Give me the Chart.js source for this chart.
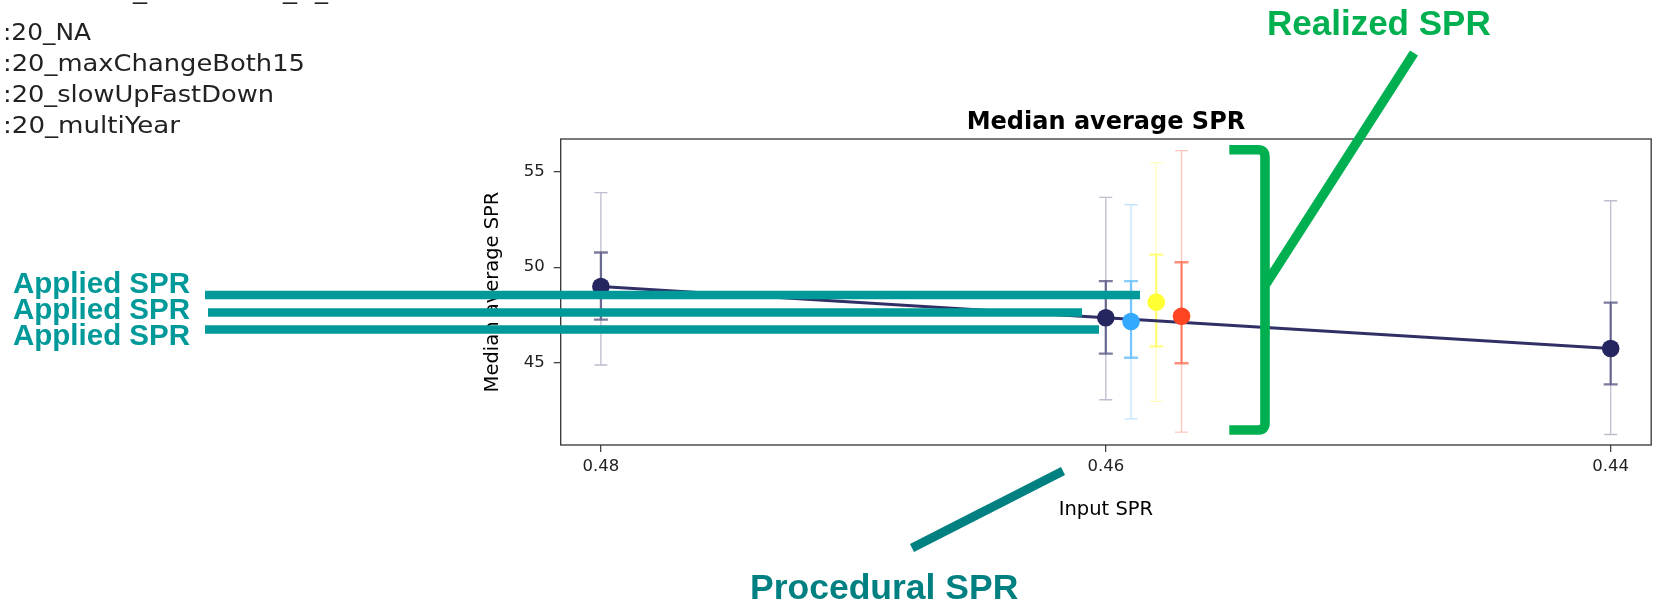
<!DOCTYPE html>
<html>
<head>
<meta charset="utf-8">
<script src="https://cdn.jsdelivr.net/npm/chart.js@4.4.1/dist/chart.umd.min.js"></script>
<style>
  body { margin: 0; background: #fff; }
  #wrap { position: relative; width: 1660px; height: 601px; overflow: hidden; }
  #chart { position: absolute; left: 0; top: 0; }
  #notes { position: absolute; left: 0; top: 0; pointer-events: none; }
</style>
</head>
<body>
<div id="wrap">
  <canvas id="chart" width="1660" height="601"></canvas>
  <svg id="notes" width="1660" height="601" xmlns="http://www.w3.org/2000/svg">
    <g font-family="DejaVu Sans" font-size="23" fill="#222">
      <text x="133" y="-1" textLength="14" lengthAdjust="spacingAndGlyphs">_</text>
      <text x="283" y="-1" textLength="14" lengthAdjust="spacingAndGlyphs">_</text>
      <text x="315" y="-1" textLength="13" lengthAdjust="spacingAndGlyphs">_</text>
      <text x="3" y="40" textLength="88" lengthAdjust="spacingAndGlyphs">:20_NA</text>
      <text x="3" y="71" textLength="302" lengthAdjust="spacingAndGlyphs">:20_maxChangeBoth15</text>
      <text x="3" y="102" textLength="271" lengthAdjust="spacingAndGlyphs">:20_slowUpFastDown</text>
      <text x="3" y="133" textLength="177" lengthAdjust="spacingAndGlyphs">:20_multiYear</text>
    </g>
    <g stroke="#009999" stroke-width="8.5">
      <line x1="205" y1="295" x2="1140" y2="295"/>
      <line x1="208" y1="312.5" x2="1082" y2="312.5"/>
      <line x1="205" y1="329.5" x2="1099" y2="329.5"/>
    </g>
    <g font-family="Liberation Sans, Arial, sans-serif" font-weight="bold" font-size="29.5" fill="#009999">
      <text x="13" y="293">Applied SPR</text>
      <text x="13" y="319">Applied SPR</text>
      <text x="13" y="345">Applied SPR</text>
    </g>
    <line x1="912" y1="548" x2="1063" y2="471" stroke="#008080" stroke-width="9"/>
    <text x="750" y="599" font-family="Liberation Sans, Arial, sans-serif" font-weight="bold" font-size="35.5" fill="#008080">Procedural SPR</text>
    <path d="M1229.3 149.7 H1258 Q1265 149.7 1265 157 V423 Q1265 430 1258 430 H1229.3" fill="none" stroke="#00b050" stroke-width="9.6"/>
    <line x1="1414" y1="53" x2="1266" y2="284" stroke="#00b050" stroke-width="9.5"/>
    <text x="1267" y="35" font-family="Liberation Sans, Arial, sans-serif" font-weight="bold" font-size="35" fill="#00b050">Realized SPR</text>
  </svg>
</div>
<script>
// tick labels
const xTicks = [0.48, 0.46, 0.44];
const yTicks = [45, 50, 55];

// :20_NA series, one point per input SPR
const inputSpr = [0.48, 0.46, 0.44];
const naMedian = [48.99, 47.35, 45.74];
const naInnerLow = [47.25, 45.47, 43.86];
const naInnerHigh = [50.77, 49.27, 48.15];
const naOuterLow = [44.88, 43.06, 41.24];
const naOuterHigh = [53.9, 53.66, 53.48];

// the other rules, only run at 0.46 (drawn slightly dodged)
const variantNames = [':20_maxChangeBoth15', ':20_slowUpFastDown', ':20_multiYear'];
const variantInput = [0.459, 0.458, 0.457];
const variantMedian = [47.16, 48.17, 47.43];
const variantInnerLow = [45.26, 45.85, 44.97];
const variantInnerHigh = [49.27, 50.66, 50.26];
const variantOuterLow = [42.06, 42.97, 41.37];
const variantOuterHigh = [53.27, 55.48, 56.1];

const naColor = [37, 37, 95];
const variantColors = [[51, 170, 255], [255, 255, 51], [255, 68, 34]];

const rgba = (c, a) => `rgba(${c[0]}, ${c[1]}, ${c[2]}, ${a})`;

Chart.defaults.font.family = 'DejaVu Sans';
Chart.defaults.color = '#222';

const datasets = [
  {
    label: ':20_NA',
    data: inputSpr.map((x, i) => ({ x: x, y: naMedian[i] })),
    inner: inputSpr.map((x, i) => [naInnerLow[i], naInnerHigh[i]]),
    outer: inputSpr.map((x, i) => [naOuterLow[i], naOuterHigh[i]]),
    rgb: naColor,
    showLine: true,
    borderColor: rgba(naColor, 0.95),
    borderWidth: 3,
    backgroundColor: rgba(naColor, 1),
    pointRadius: 8.8,
    pointBorderWidth: 0,
    order: 5
  },
  ...variantNames.map((name, i) => ({
    label: name,
    data: [{ x: variantInput[i], y: variantMedian[i] }],
    inner: [[variantInnerLow[i], variantInnerHigh[i]]],
    outer: [[variantOuterLow[i], variantOuterHigh[i]]],
    rgb: variantColors[i],
    backgroundColor: rgba(variantColors[i], 1),
    borderColor: rgba(variantColors[i], 1),
    pointRadius: 8.8,
    pointBorderWidth: 0,
    order: 1
  }))
];

function drawBar(ctx, px, lo, hi, color, width, cap) {
  ctx.strokeStyle = color;
  ctx.lineWidth = width;
  ctx.beginPath();
  ctx.moveTo(px, lo); ctx.lineTo(px, hi);
  ctx.moveTo(px - cap, lo); ctx.lineTo(px + cap, lo);
  ctx.moveTo(px - cap, hi); ctx.lineTo(px + cap, hi);
  ctx.stroke();
}

const errorBars = {
  id: 'errorBars',
  beforeDatasetsDraw(chart) {
    const { ctx, scales: { x, y } } = chart;
    ctx.save();
    chart.data.datasets.forEach(ds => {
      ds.data.forEach((pt, i) => {
        const px = x.getPixelForValue(pt.x);
        drawBar(ctx, px, y.getPixelForValue(ds.outer[i][0]), y.getPixelForValue(ds.outer[i][1]), rgba(ds.rgb, 0.3), 1.3, 6.5);
        drawBar(ctx, px, y.getPixelForValue(ds.inner[i][0]), y.getPixelForValue(ds.inner[i][1]), rgba(ds.rgb, 0.6), 2.3, 7);
      });
    });
    ctx.restore();
  }
};

const frame = {
  id: 'frame',
  afterDatasetsDraw(chart) {
    const { ctx, chartArea: a } = chart;
    ctx.save();
    ctx.strokeStyle = '#333';
    ctx.lineWidth = 1.3;
    ctx.strokeRect(a.left, a.top, a.right - a.left, a.bottom - a.top);
    ctx.restore();
  }
};

new Chart(document.getElementById('chart').getContext('2d'), {
  type: 'scatter',
  data: { datasets: datasets },
  plugins: [errorBars, frame],
  options: {
    responsive: false,
    animation: false,
    devicePixelRatio: 1,
    layout: { padding: { left: 481.6, right: 6.7, top: 0, bottom: 0 } },
    plugins: {
      legend: { display: false },
      tooltip: { enabled: false },
      title: {
        display: true,
        fullSize: false,
        text: 'Median average SPR',
        color: '#000',
        font: { size: 24, weight: 'bold' },
        padding: { top: 108.5, bottom: 1.7 }
      }
    },
    scales: {
      x: {
        type: 'linear',
        reverse: true,
        min: 0.438395,
        max: 0.481593,
        afterBuildTicks: axis => { axis.ticks = xTicks.map(v => ({ value: v })); },
        afterFit: axis => { axis.height = 156; },
        ticks: { font: { size: 16.5 }, color: '#222', padding: 5, callback: v => v.toFixed(2) },
        grid: { drawOnChartArea: false, drawTicks: true, tickLength: 7, tickColor: '#444', lineWidth: 1.3 },
        border: { display: false },
        title: { display: true, text: 'Input SPR', color: '#000', font: { size: 19.5 }, padding: { top: 0, bottom: 79.3 } }
      },
      y: {
        type: 'linear',
        min: 40.691,
        max: 56.712,
        afterBuildTicks: axis => { axis.ticks = yTicks.map(v => ({ value: v })); },
        afterFit: axis => { axis.width = 79.1; },
        ticks: { font: { size: 16.5 }, color: '#222', padding: 9, callback: v => String(v) },
        grid: { drawOnChartArea: false, drawTicks: true, tickLength: 7, tickColor: '#444', lineWidth: 1.3 },
        border: { display: false },
        title: { display: true, text: 'Median average SPR', color: '#000', font: { size: 19.5 }, padding: { top: 0, bottom: 0 } }
      }
    }
  }
});
</script>
</body>
</html>
